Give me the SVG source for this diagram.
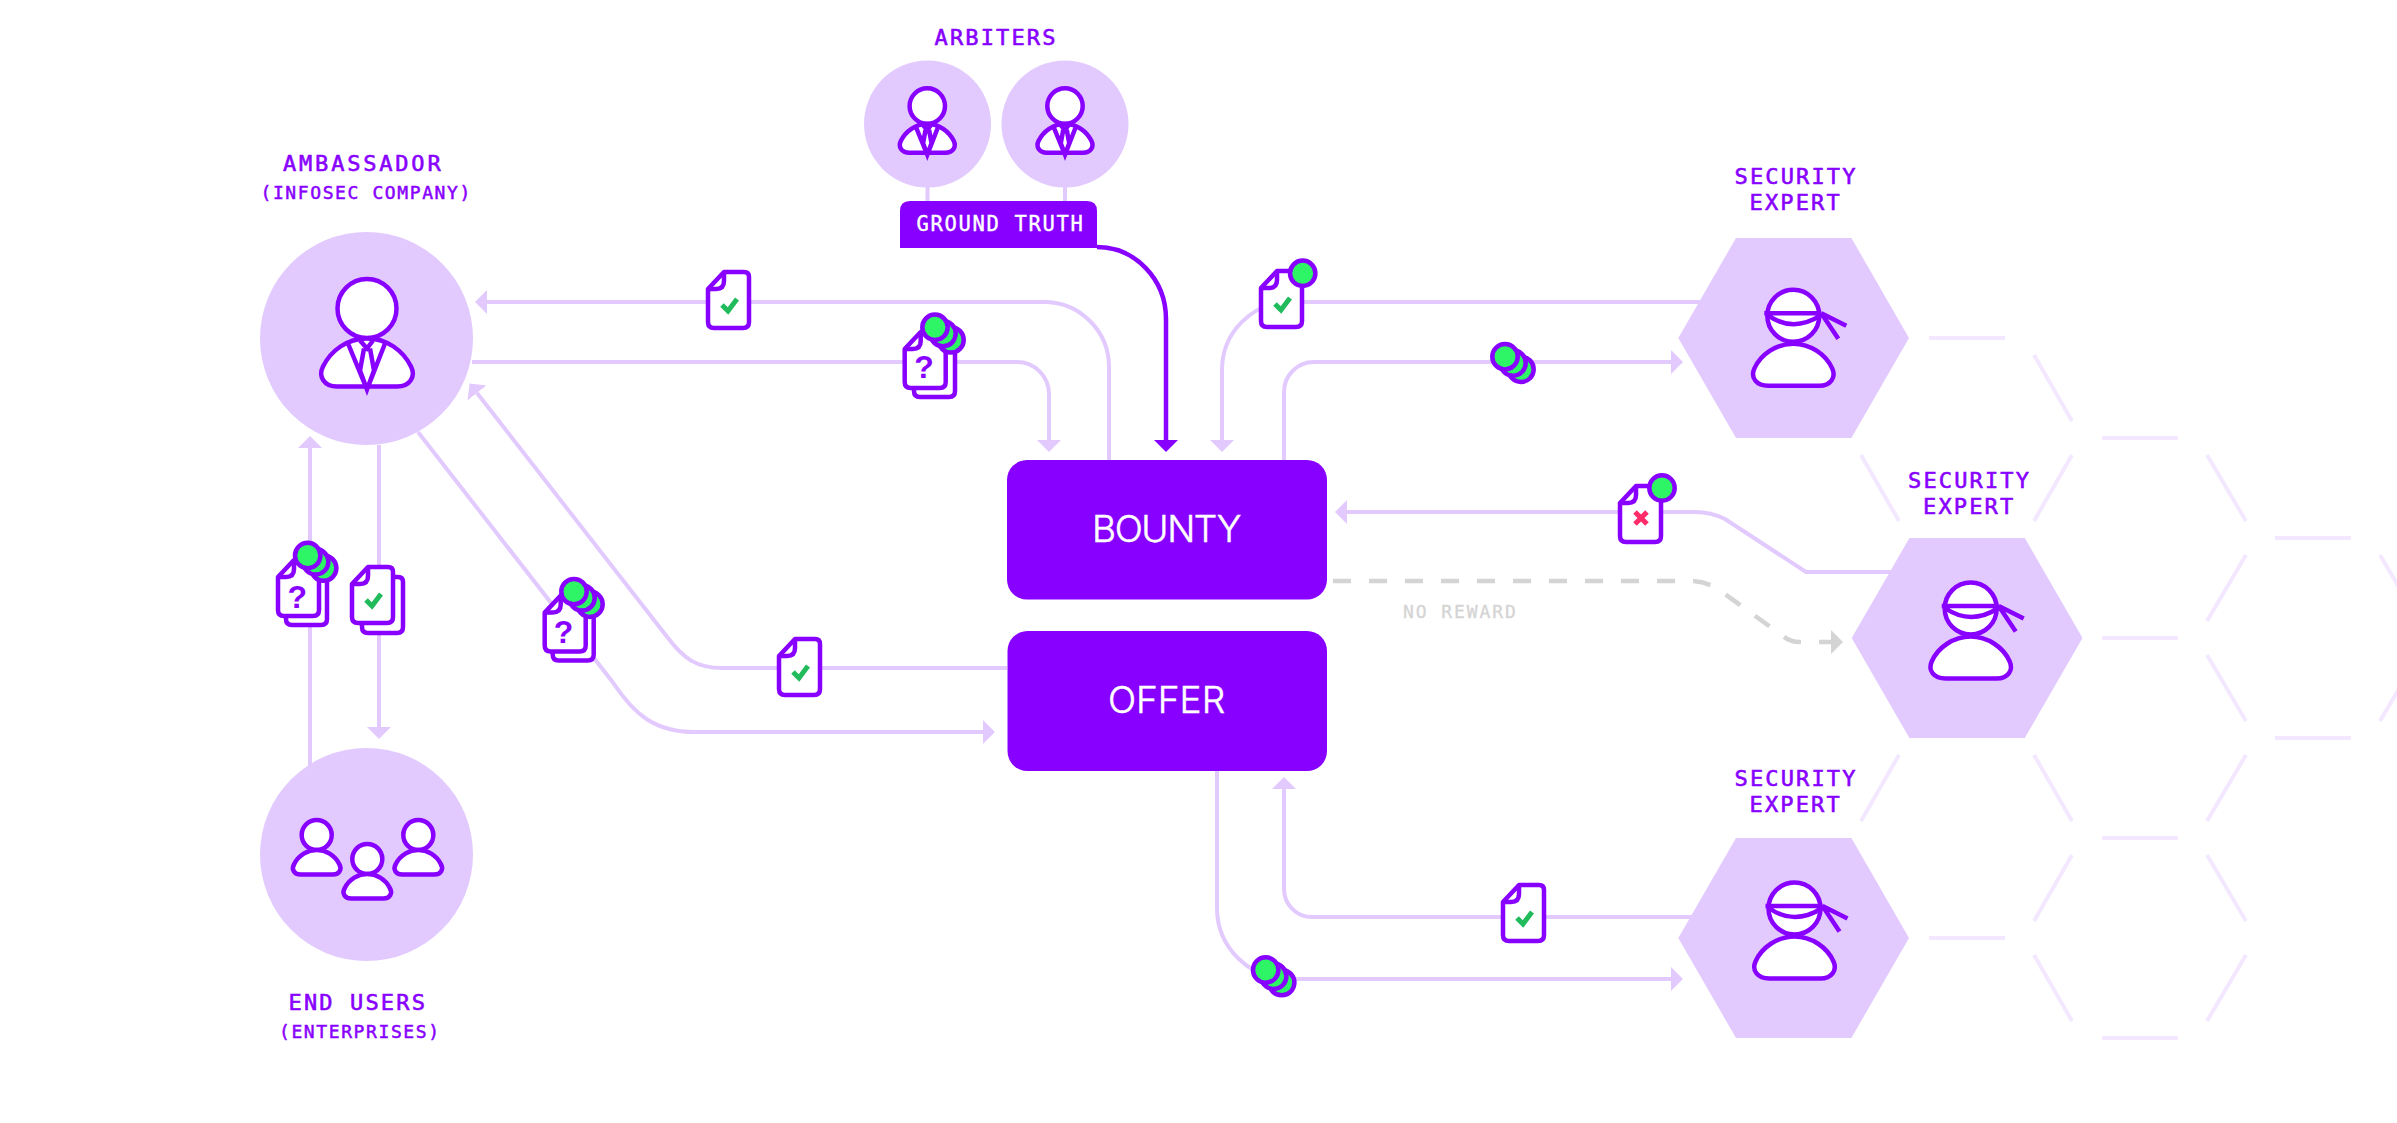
<svg xmlns="http://www.w3.org/2000/svg" width="2397" height="1123" viewBox="0 0 2397 1123">
<style>
.link{fill:none;stroke:#e2caff;stroke-width:4}
.dark{stroke:#8800ff;stroke-width:4.5}
.none{fill:none;stroke:#d4d4d4;stroke-width:4.5;stroke-dasharray:18 18}
.grid path{fill:none;stroke:#f3e8ff;stroke-width:4}
.blob{fill:#e2caff}
.box{fill:#8800ff}
.ic{fill:#fff;stroke:#8800ff;stroke-width:4.5;stroke-linejoin:round;vector-effect:non-scaling-stroke}
.ln{fill:none;stroke:#8800ff;stroke-width:4.5;vector-effect:non-scaling-stroke}
.coin{fill:#2ef566;stroke:#8800ff;stroke-width:4.5}
.ok{fill:none;stroke:#22bb5c;stroke-width:5}
.bad{fill:none;stroke:#ff2a68;stroke-width:5}
text{font-family:"DejaVu Sans Mono","Liberation Mono",monospace;fill:#8800ff;stroke:#8800ff;stroke-width:.6}
.h{font-size:22px;letter-spacing:2.15px}
.amb{letter-spacing:2.8px}
.s{font-size:18px;letter-spacing:1.6px;stroke-width:.5}
.tag{font-size:20.5px;letter-spacing:1.65px;fill:#fff;stroke:#fff;stroke-width:.4}
.big{font-family:Inter,Roboto,"Liberation Sans",sans-serif;font-weight:300;font-size:37px;fill:#fff;stroke:#fff;stroke-width:.5}
.tight{letter-spacing:-1.4px}
.nr{font-size:18px;letter-spacing:1.9px;fill:#d4d4d4;stroke:#d4d4d4;stroke-width:.3}
.q{font-family:"Liberation Sans",sans-serif;font-weight:700;font-size:32px;text-anchor:middle;stroke:none}
</style>
<defs>
<marker id="head" markerUnits="userSpaceOnUse" markerWidth="14" markerHeight="26" refX="0" refY="13" viewBox="0 0 14 26" orient="auto"><path d="M0,1L12,13L0,25Z" fill="#e2caff"/></marker>
<marker id="headD" markerUnits="userSpaceOnUse" markerWidth="14" markerHeight="26" refX="0" refY="13" viewBox="0 0 14 26" orient="auto"><path d="M0,1L12,13L0,25Z" fill="#8800ff"/></marker>
<g id="doc"><path class="ic" d="M0,17L16,0H36Q41,0 41,5V50Q41,56 35,56H6Q0,56 0,50Z"/><path class="ln" d="M16,0V9Q16,17 8,17H0"/></g>
<path id="tick" class="ok" d="M14,33L20,39L29,27"/>
<g id="coins"><circle class="coin" cx="16" cy="12.6" r="12.7"/><circle class="coin" cx="8" cy="6.3" r="12.7"/><circle class="coin" r="12.7"/></g>
<g id="suit"><circle class="ic" r="29.5"/><path class="ic" d="M-30,78H30C43,78 49,68 44,58C36,42 20,30 0,30C-20,30 -36,42 -44,58C-49,68 -43,78 -30,78Z"/><path class="ln" d="M-7,32L0,40L6,32M-3,40L-7,62L0,81L7,62L3,40M-19,35L0,81L18,35"/></g>
<g id="user"><circle class="ic" r="15"/><path class="ic" d="M-16,39.500H16C23,39.500 25.500,34 22.500,29C18,20 9,15 0,15C-9,15 -18,20 -22.500,29C-25.500,34 -23,39.500 -16,39.500Z"/></g>
<g id="ninja"><circle class="ic" r="26"/><path class="ic" d="M-25,70H26C37,70 43,62 39,53C33,39 17,28 0,28C-17,28 -33,39 -39,53C-43,62 -37,70 -25,70Z"/><path class="ln" d="M-29,-2.500H28M-25,0Q0,17 27,0M28,-2.500L53,10M28,-2.500L45,23"/></g>
</defs>
<rect width="2397" height="1123" fill="#fff"/>

<g id="honeycomb" class="grid">
<path d="M1929,338H2005M2102,438H2178M2275,538H2351M2102,638H2178M2275,738H2351M2102,838H2178M1929,938H2005M2102,1038H2178"/>
<path d="M2034,355L2072,421M1861,455L1899,521M2072,455L2034,521M2207,455L2246,521M2246,555L2207,621M2380,555L2419,621M2207,655L2246,721M2419,655L2380,721M1899,755L1861,821M2034,755L2072,821M2246,755L2207,821M2072,855L2034,921M2207,855L2246,921M2034,955L2072,1021M2246,955L2207,1021"/>
</g>

<g id="connectors">
<path class="link" d="M927.5,186V201M1065,186V201"/>
<path class="link" marker-end="url(#head)" d="M1109,460V367A65,65 0 0 0 1044,302H487"/>
<path class="link" marker-end="url(#head)" d="M472,362H1017A32,32 0 0 1 1049,394V440"/>
<path class="link dark" marker-end="url(#headD)" d="M1097,247A69,72 0 0 1 1166,319V440"/>
<path class="link" marker-end="url(#head)" d="M1700,302H1290A68,68 0 0 0 1222,370V440"/>
<path class="link" marker-end="url(#head)" d="M1284,460V392A30,30 0 0 1 1314,362H1671"/>
<path class="link" marker-end="url(#head)" d="M1895,572H1806L1725,519Q1711,512 1695,512H1347"/>
<path class="none" d="M1333,581H1690Q1708,581 1722,592L1783,636Q1790,642 1800,642H1831"/>
<path d="M1831,630L1843,642L1831,654Z" fill="#d4d4d4"/>
<path class="link" marker-end="url(#head)" d="M1007,668H722C697,668 684,659 668,638L477,393"/>
<path class="link" marker-end="url(#head)" d="M418,432L612.600,682C634,714 654,732 695,732H983"/>
<path class="link" marker-end="url(#head)" d="M310,770V448"/>
<path class="link" marker-end="url(#head)" d="M379,445V727"/>
<path class="link" marker-end="url(#head)" d="M1217,770V908A72,71 0 0 0 1289,979H1671"/>
<path class="link" marker-end="url(#head)" d="M1695,917H1312A28,28 0 0 1 1284,889V789"/>
</g>

<g id="ambassador">
<circle class="blob" cx="366.5" cy="338.5" r="106.5"/>
<use href="#suit" transform="translate(367,308.500)"/>
<text class="h amb" x="283" y="170.500">AMBASSADOR</text>
<text class="s" x="260.500" y="198.500">(INFOSEC COMPANY)</text>
</g>

<g id="end-users">
<circle class="blob" cx="366.5" cy="854.5" r="106.5"/>
<use href="#user" transform="translate(316.7,835)"/>
<use href="#user" transform="translate(418.3,835)"/>
<use href="#user" transform="translate(367.3,859)"/>
<text class="h" x="288.500" y="1010">END USERS</text>
<text class="s" x="279" y="1038">(ENTERPRISES)</text>
</g>

<g id="arbiters">
<text class="h" x="934.500" y="45">ARBITERS</text>
<circle class="blob" cx="927.5" cy="124" r="63.5"/>
<circle class="blob" cx="1065" cy="124" r="63.5"/>
<use href="#suit" transform="translate(927.3,106) scale(.6)"/>
<use href="#suit" transform="translate(1065,106) scale(.6)"/>
</g>

<g id="ground-truth">
<path class="box" d="M900,248V211Q900,201 910,201H1087Q1097,201 1097,211V248Z"/>
<text class="tag" x="916.500" y="231">GROUND TRUTH</text>
</g>

<g id="bounty">
<rect class="box" x="1007" y="460" width="320" height="139.500" rx="20"/>
<text class="big tight" x="1092" y="542">BOUNTY</text>
</g>

<g id="offer">
<rect class="box" x="1007.500" y="631" width="319.500" height="140" rx="20"/>
<text class="big" x="1108" y="713">OFFER</text>
</g>

<g id="expert-1">
<path class="blob" d="M1678.300,338L1736,238H1851.400L1909,338L1851.400,438H1736Z"/>
<use href="#ninja" transform="translate(1793.300,315.700)"/>
<text class="h" x="1734.500" y="184">SECURITY</text>
<text class="h" x="1749.500" y="210">EXPERT</text>
</g>

<g id="expert-2">
<path class="blob" d="M1851.700,638L1909.400,538H2024.800L2082.500,638L2024.800,738H1909.400Z"/>
<use href="#ninja" transform="translate(1970.700,608.500)"/>
<text class="h" x="1908" y="488">SECURITY</text>
<text class="h" x="1923" y="514">EXPERT</text>
</g>

<g id="expert-3">
<path class="blob" d="M1678.300,938L1736,838H1851.400L1909,938L1851.400,1038H1736Z"/>
<use href="#ninja" transform="translate(1794.500,908.500)"/>
<text class="h" x="1734.500" y="786">SECURITY</text>
<text class="h" x="1749.500" y="812">EXPERT</text>
</g>

<text id="no-reward" class="nr" x="1403" y="618">NO REWARD</text>

<g id="token-report-ok"><use href="#doc" x="708" y="272"/><use href="#tick" x="708" y="272"/></g>
<g id="token-query-top"><use href="#doc" x="914" y="341"/><use href="#doc" x="904.700" y="332"/><text class="q" x="924" y="378">?</text><use href="#coins" x="935" y="327.300"/></g>
<g id="token-query-left"><use href="#doc" x="286" y="569"/><use href="#doc" x="278" y="560"/><text class="q" x="297.300" y="608">?</text><use href="#coins" x="307.700" y="555.500"/></g>
<g id="token-report-stack"><use href="#doc" x="362" y="577"/><use href="#doc" x="352" y="567"/><use href="#tick" x="352" y="567"/></g>
<g id="token-query-mid"><use href="#doc" x="552.700" y="604.600"/><use href="#doc" x="544.700" y="595.600"/><text class="q" x="563.500" y="643">?</text><use href="#coins" x="574" y="591.600"/></g>
<g id="token-report-offer"><use href="#doc" x="779" y="639"/><use href="#tick" x="779" y="639"/></g>
<g id="token-paid-report"><use href="#doc" x="1261" y="271"/><use href="#tick" x="1261" y="271"/><circle class="coin" cx="1302.700" cy="273.300" r="12.700"/></g>
<g id="token-coins-top"><use href="#coins" x="1505" y="356.700"/></g>
<g id="token-rejected"><use href="#doc" x="1620" y="486"/><path class="bad" d="M1635,512L1647,524M1647,512L1635,524"/><circle class="coin" cx="1662" cy="488" r="12.700"/></g>
<g id="token-report-bottom"><use href="#doc" x="1503" y="885"/><use href="#tick" x="1503" y="885"/></g>
<g id="token-coins-bottom"><use href="#coins" x="1265.700" y="970"/></g>
</svg>
